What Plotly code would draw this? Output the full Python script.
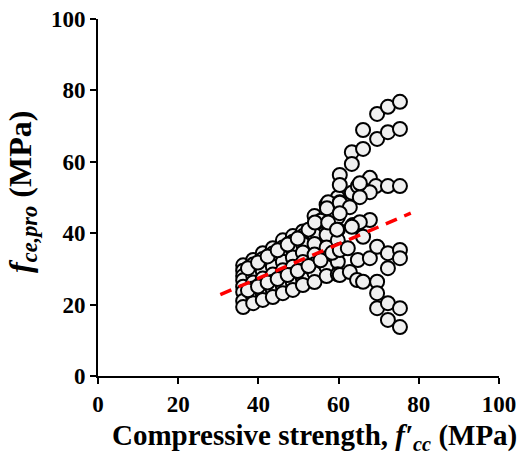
import plotly.graph_objects as go

# Dense region: common compressive-strength grids (MPa)
x_dense = [36.2, 38.7, 41.1, 43.6, 46.1, 48.6, 51.1, 54.0, 57.0, 59.8]
x_dense_b = [37.4, 39.9, 42.3, 44.8, 47.3, 49.8, 52.5, 55.5, 58.4]
s1_y = [31.0, 32.5, 34.4, 35.8, 38.0, 39.2, 40.5, 44.8, 48.0, 50.0]
s2_y = [29.5, 31.2, 32.8, 34.3, 36.0, 37.6, 39.2, 42.5, 45.5, 47.5]
s3_y = [28.0, 29.5, 31.0, 32.5, 34.0, 35.4, 37.0, 39.5, 43.0, 44.5]
s4_y = [26.8, 28.0, 29.3, 30.6, 32.0, 33.2, 34.6, 37.0, 39.5, 41.0]
s5_y = [25.0, 26.2, 27.3, 28.4, 29.6, 30.6, 31.9, 34.0, 36.0, 38.0]
s6_y = [23.5, 24.5, 25.5, 26.4, 27.4, 28.4, 29.5, 31.3, 33.0, 35.0]
s7_y = [21.0, 22.0, 23.0, 24.0, 25.0, 26.0, 27.2, 28.8, 30.5, 32.0]
s8_y = [19.3, 20.4, 21.3, 22.1, 23.2, 24.1, 25.5, 26.3, 28.0, 28.5]
s9_y = [30.2, 31.8, 33.5, 35.2, 36.8, 38.5, 41.0, 43.5, 46.0]
s10_y = [24.0, 25.1, 26.2, 27.2, 28.3, 29.4, 30.8, 32.4, 34.5]

# Scattered points beyond ~60 MPa
right_x = [60.3, 63.3, 66.1, 69.6, 72.3, 75.3,
           63.3, 66.1, 69.6, 72.3, 75.3,
           60.3, 63.3, 64.8, 66.1, 67.8, 69.3, 72.3, 75.3, 67.8, 65.3, 65.3,
           57.4, 60.3, 57.1, 54.1, 57.4, 59.6, 63.6, 67.8,
           60.3, 62.8, 60.3, 65.3, 63.3, 66.1, 60.3, 62.3, 64.8, 67.8,
           69.6, 72.3, 75.3, 75.3, 72.3,
           60.3, 62.8, 64.6, 66.1, 69.6, 69.6, 69.6, 72.3, 75.3, 72.3, 75.3]
right_y = [56.3, 62.7, 68.9, 73.4, 75.4, 76.8,
           59.4, 63.6, 66.4, 68.3, 69.2,
           53.5, 51.3, 53.2, 53.0, 55.5, 53.2, 53.2, 53.2, 51.5, 50.1, 54.0,
           48.7, 48.7, 47.0, 43.0, 43.0, 41.0, 42.3, 43.7,
           48.5, 47.3, 45.6, 43.1, 41.8, 39.0, 35.3, 35.8, 32.5, 33.0,
           36.2, 34.4, 35.3, 33.0, 30.2,
           28.3, 29.1, 26.9, 26.4, 26.4, 23.2, 19.0, 20.4, 19.0, 15.7, 13.7]

# Linear trend
fit_x = [30.5, 78.0]
fit_y = [22.8, 45.6]

all_x, all_y = [], []
for s in [s1_y, s2_y, s3_y, s4_y, s5_y, s6_y, s7_y, s8_y]:
    all_x += x_dense
    all_y += s
for s in [s9_y, s10_y]:
    all_x += x_dense_b
    all_y += s
all_x += right_x
all_y += right_y

font_family = "Liberation Serif, Times New Roman, serif"

fig = go.Figure()
fig.add_trace(go.Scatter(
    x=all_x, y=all_y, mode="markers",
    marker=dict(size=14, color="#f0f0f0", line=dict(color="black", width=2)),
    showlegend=False, cliponaxis=False))
fig.add_trace(go.Scatter(
    x=fit_x, y=fit_y, mode="lines",
    line=dict(color="#ff0000", width=3.5, dash="12px,8px"),
    showlegend=False))

axis_common = dict(
    range=[0, 100], tickvals=[0, 20, 40, 60, 80, 100],
    showline=True, linecolor="black", linewidth=2,
    ticks="outside", ticklen=6, tickwidth=2, tickcolor="black",
    showgrid=False, zeroline=False, automargin=False,
    tickfont=dict(size=23, family=font_family, weight="bold"),
)

fig.update_layout(
    width=526, height=459,
    margin=dict(l=98, r=27, t=19, b=83),
    paper_bgcolor="white", plot_bgcolor="white",
    font=dict(family=font_family, color="black"),
    xaxis=axis_common,
    yaxis=axis_common,
    annotations=[
        dict(text="<b>Compressive strength, <i>f′</i><sub><i>cc</i></sub> (MPa)</b>",
             xref="paper", yref="paper", x=0.54, y=-0.171,
             xanchor="center", yanchor="middle", showarrow=False,
             font=dict(size=29, family=font_family, color="black")),
        dict(text="<b><i>f</i><sub><i>ce,pro</i></sub> (MPa)</b>",
             xref="paper", yref="paper", x=-0.19, y=0.515,
             xanchor="center", yanchor="middle", showarrow=False, textangle=-90,
             font=dict(size=32, family=font_family, color="black")),
    ],
)

fig.write_html("out.html")
